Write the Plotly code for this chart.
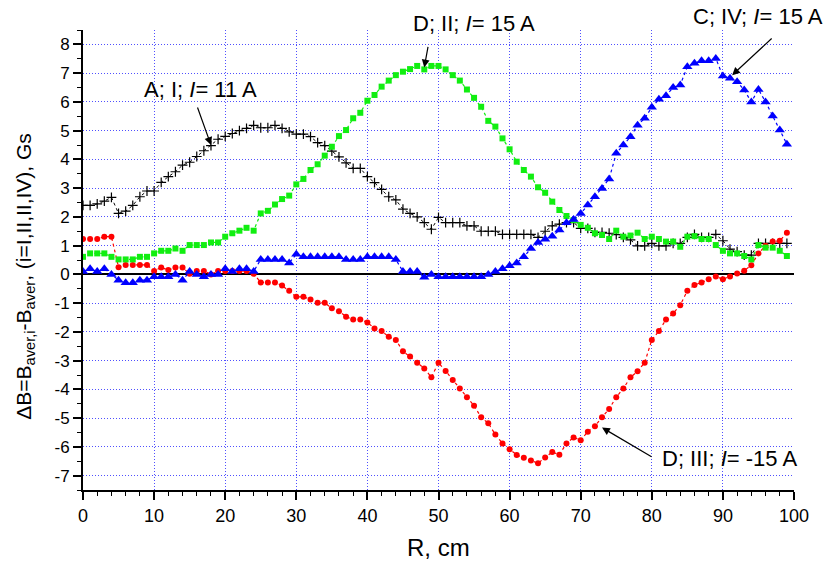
import plotly.graph_objects as go

R = list(range(100))

dB_A_I = [2.40, 2.40, 2.45, 2.55, 2.68, 2.12, 2.20, 2.40, 2.70, 2.90,
          2.90, 3.20, 3.40, 3.57, 3.80, 3.90, 4.10, 4.30, 4.48, 4.70,
          4.80, 4.90, 5.00, 5.08, 5.18, 5.10, 5.10, 5.18, 5.08, 4.96,
          4.88, 4.88, 4.79, 4.58, 4.48, 4.29, 4.09, 3.88, 3.69, 3.69,
          3.40, 3.19, 2.96, 2.70, 2.59, 2.27, 2.12, 2.00, 1.80, 1.57,
          1.98, 1.80, 1.80, 1.80, 1.69, 1.69, 1.50, 1.50, 1.50, 1.39,
          1.39, 1.39, 1.39, 1.39, 1.29, 1.50, 1.69, 1.75, 1.80, 1.80,
          1.60, 1.60, 1.46, 1.46, 1.43, 1.38, 1.29, 1.20, 0.99, 0.99,
          1.08, 0.99, 0.99, 1.08, 1.08, 1.29, 1.39, 1.29, 1.29, 1.39,
          1.17, 0.88, 0.79, 0.67, 0.67, 1.08, 1.08, 1.08, 1.08, 1.08]

dB_D_II = [0.61, 0.73, 0.73, 0.73, 0.61, 0.52, 0.52, 0.52, 0.61, 0.61,
           0.73, 0.82, 0.82, 0.90, 0.82, 1.02, 1.02, 1.02, 1.11, 1.11,
           1.31, 1.43, 1.52, 1.62, 1.52, 2.12, 2.21, 2.43, 2.62, 2.74,
           3.13, 3.32, 3.63, 3.83, 4.13, 4.44, 4.81, 5.02, 5.43, 5.62,
           6.04, 6.24, 6.53, 6.74, 6.93, 7.05, 7.14, 7.25, 7.13, 7.25,
           7.25, 7.13, 6.93, 6.74, 6.43, 6.14, 5.83, 5.34, 5.14, 4.73,
           4.35, 3.92, 3.63, 3.40, 3.03, 2.84, 2.53, 2.24, 2.03, 1.89,
           1.72, 1.62, 1.43, 1.37, 1.23, 1.52, 1.31, 1.35, 1.45, 1.23,
           1.31, 1.23, 1.14, 1.14, 0.96, 1.31, 1.33, 1.23, 1.23, 1.02,
           0.82, 0.73, 0.73, 0.64, 0.52, 1.02, 0.93, 0.93, 0.82, 0.64]

dB_D_III = [1.23, 1.23, 1.23, 1.31, 1.31, 0.25, 0.33, 0.33, 0.33, 0.33,
            0.12, 0.24, 0.15, 0.24, 0.24, 0.02, 0.12, 0.12, 0.00, 0.12,
            0.12, 0.12, 0.12, 0.12, 0.02, -0.28, -0.28, -0.28, -0.39, -0.57,
            -0.78, -0.78, -0.87, -0.99, -0.99, -1.18, -1.28, -1.47, -1.57, -1.57,
            -1.67, -1.88, -1.97, -2.17, -2.28, -2.67, -2.86, -3.07, -3.27, -3.58,
            -3.07, -3.36, -3.67, -3.97, -4.27, -4.57, -4.97, -5.18, -5.57, -5.88,
            -6.08, -6.28, -6.38, -6.47, -6.57, -6.37, -6.18, -6.27, -5.88, -5.67,
            -5.77, -5.47, -5.28, -4.97, -4.68, -4.27, -3.97, -3.58, -3.37, -3.07,
            -2.28, -1.97, -1.57, -1.36, -1.07, -0.57, -0.37, -0.28, -0.17, -0.07,
            -0.17, -0.07, 0.03, 0.13, 0.32, 0.73, 1.00, 1.14, 1.17, 1.45]

dB_C_IV = [0.10, 0.20, 0.10, 0.20, 0.00, -0.20, -0.29, -0.29, -0.20, -0.20,
           -0.08, -0.08, -0.08, 0.00, -0.20, 0.10, 0.00, -0.08, 0.00, 0.00,
           0.20, 0.10, 0.20, 0.20, 0.10, 0.52, 0.52, 0.52, 0.52, 0.40,
           0.70, 0.61, 0.61, 0.61, 0.61, 0.61, 0.61, 0.52, 0.52, 0.52,
           0.61, 0.61, 0.61, 0.61, 0.52, 0.10, 0.10, 0.10, -0.10, 0.00,
           -0.08, -0.08, -0.08, -0.08, -0.08, -0.08, -0.08, 0.00, 0.10, 0.20,
           0.30, 0.40, 0.61, 0.90, 1.11, 1.22, 1.33, 1.54, 1.80, 1.91,
           2.12, 2.41, 2.70, 2.99, 3.32, 4.21, 4.50, 4.79, 5.19, 5.43,
           5.81, 6.09, 6.21, 6.50, 6.59, 7.22, 7.34, 7.43, 7.43, 7.51,
           6.90, 6.82, 6.70, 6.41, 6.00, 6.43, 6.00, 5.51, 5.02, 4.53]

x_ticks = [0, 10, 20, 30, 40, 50, 60, 70, 80, 90, 100]
y_ticks = [-7, -6, -5, -4, -3, -2, -1, 0, 1, 2, 3, 4, 5, 6, 7, 8]
y_ticktext = [str(v) for v in y_ticks]

FONT = "Liberation Sans, Arial, sans-serif"
DASH = "3px,3px"

fig = go.Figure()
fig.add_trace(go.Scatter(x=R, y=dB_A_I, mode="lines+markers", name="A; I",
                         line=dict(color="black", width=1, dash=DASH),
                         marker=dict(symbol="cross-thin", size=7, color="black",
                                     line=dict(color="black", width=1.2))))
fig.add_trace(go.Scatter(x=R, y=dB_D_III, mode="lines+markers", name="D; III",
                         line=dict(color="#ff0000", width=1.2, dash=DASH),
                         marker=dict(symbol="circle", size=6, color="#ff0000")))
fig.add_trace(go.Scatter(x=R, y=dB_D_II, mode="lines+markers", name="D; II",
                         line=dict(color="#11ee11", width=1.2, dash=DASH),
                         marker=dict(symbol="square", size=6, color="#11ee11")))
fig.add_trace(go.Scatter(x=R, y=dB_C_IV, mode="lines+markers", name="C; IV",
                         line=dict(color="#0000ff", width=1.2, dash=DASH),
                         marker=dict(symbol="triangle-up", size=9, color="#0000ff")))

arrows = [
    (18.0, 4.5, -14, -39),
    (48.0, 7.2, 4, -22),
    (91.3, 6.93, 41, -38),
    (73.0, -5.33, 51, 30),
]
for hx, hy, ax, ay in arrows:
    fig.add_annotation(x=hx, y=hy, xref="x", yref="y", text="", showarrow=True,
                       ax=ax, ay=ay, arrowhead=2, arrowsize=1.3, arrowwidth=1.2,
                       arrowcolor="black", standoff=0)

labels = [
    (0.1646, 0.8696, "A; I; <i>I</i>= 11 A"),
    (0.5500, 1.0150, "D; II; <i>I</i>= 15 A"),
    (0.9490, 1.0300, "C; IV; <i>I</i>= 15 A"),
    (0.9086, 0.0674, "D; III; <i>I</i>= -15 A"),
]
for tx, ty, t in labels:
    fig.add_annotation(x=tx, y=ty, xref="paper", yref="paper", text=t, showarrow=False,
                       xanchor="center", yanchor="middle",
                       font=dict(family=FONT, size=22, color="black"))

fig.add_annotation(x=0.5, y=-0.124, xref="paper", yref="paper", text="R, cm",
                   showarrow=False, xanchor="center", yanchor="middle",
                   font=dict(family=FONT, size=24, color="black"))
fig.add_annotation(x=-0.082, y=0.465, xref="paper", yref="paper",
                   text="ΔB=B<sub>aver,i</sub>-B<sub>aver</sub>, (i=I,II,II,IV), Gs",
                   textangle=-90, showarrow=False, xanchor="center", yanchor="middle",
                   font=dict(family=FONT, size=21, color="black"))

grid = dict(showgrid=True, gridcolor="#5050ff", griddash="1px,2px", gridwidth=1)

fig.update_xaxes(range=[0, 100], tickvals=x_ticks, ticks="outside", ticklen=8,
                 tickwidth=1.5, tickcolor="black", showline=True, linecolor="black",
                 linewidth=2, zeroline=False,
                 minor=dict(dtick=2, ticks="outside", ticklen=4, tickwidth=1.2,
                            tickcolor="black", showgrid=False),
                 tickfont=dict(family=FONT, size=18, color="black"), **grid)
fig.update_yaxes(range=[-7.5, 8.5], tickvals=y_ticks, ticktext=y_ticktext,
                 ticks="outside", ticklen=8, tickwidth=1.5, tickcolor="black",
                 showline=True, linecolor="black", linewidth=2,
                 zeroline=True, zerolinecolor="black", zerolinewidth=1.5,
                 minor=dict(dtick=0.5, ticks="outside", ticklen=4, tickwidth=1.2,
                            tickcolor="black", showgrid=False),
                 tickfont=dict(family=FONT, size=17, color="black"), **grid)

fig.update_layout(width=830, height=563, showlegend=False,
                  plot_bgcolor="white", paper_bgcolor="white",
                  margin=dict(l=83, r=36, t=30, b=73),
                  font=dict(family=FONT, color="black"))

fig.write_html("out.html")
